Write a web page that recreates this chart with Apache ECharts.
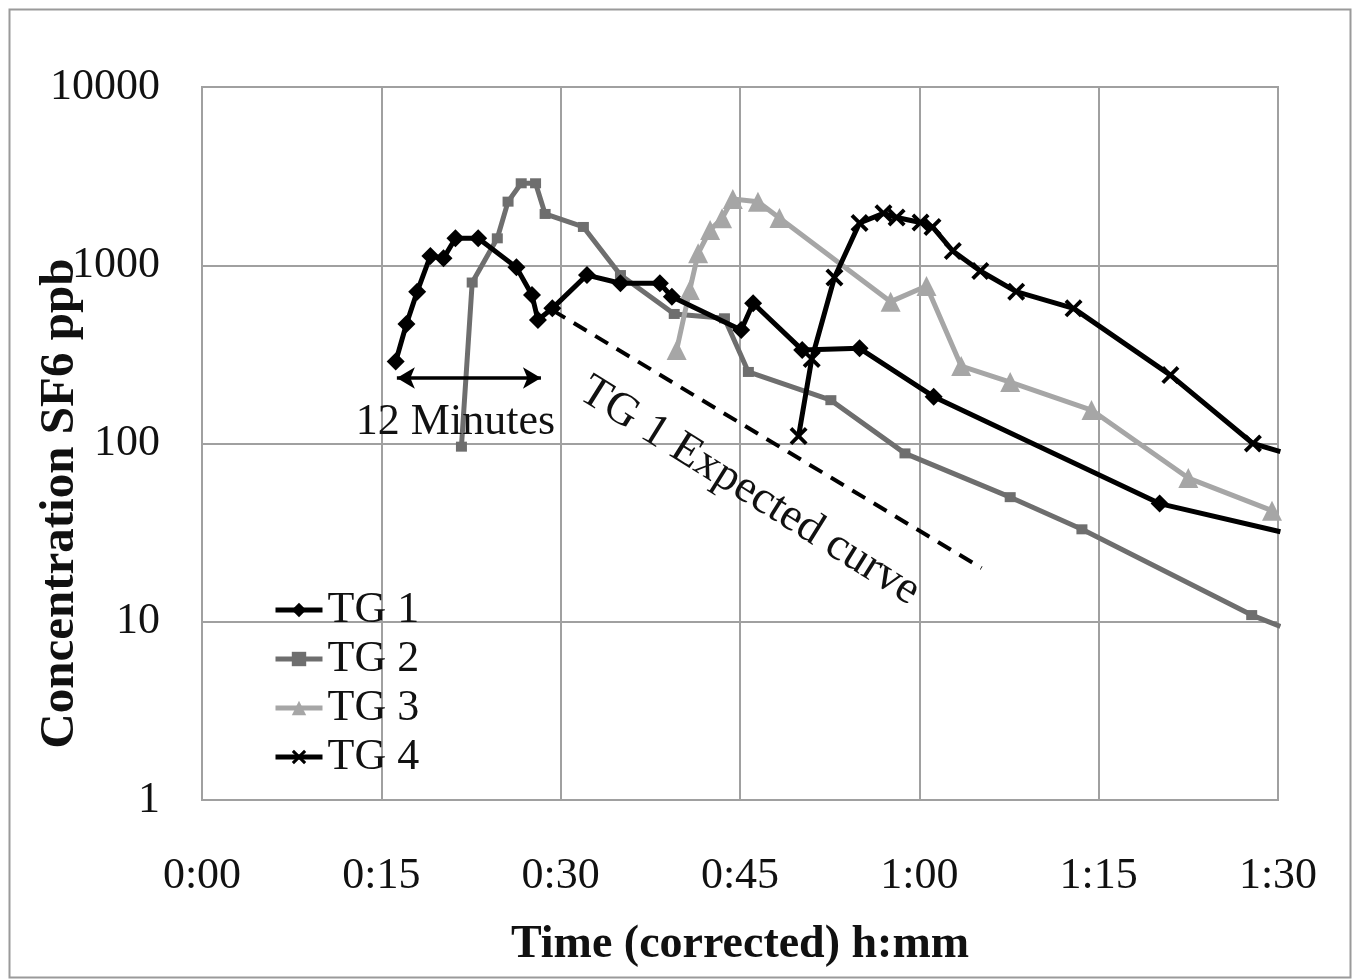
<!DOCTYPE html>
<html><head><meta charset="utf-8">
<script src="https://cdn.jsdelivr.net/npm/echarts@6/dist/echarts.min.js"></script>
<style>html,body{margin:0;padding:0;background:#fff}#c{width:1355px;height:979px}</style>
</head><body><div id="c"></div>
<script>
// time in minutes, concentration in ppb
const tg1Time = [16.2,17.1,18.0,19.1,20.2,21.2,23.1,26.3,27.6,28.1,29.3,32.2,35.0,38.3,39.3,45.1,46.1,50.2,55.0,61.2,80.1,90.2];
const tg1Conc = [288,468,711,1127,1094,1416,1416,973,681,493,573,881,792,792,666,433,612,335,342,183,46,32];
const tg2Time = [21.7,22.6,24.7,25.6,26.7,27.9,28.7,31.9,35.0,39.5,43.7,45.7,52.6,58.8,67.6,73.6,87.8,90.2];
const tg2Conc = [96,800,1416,2274,2883,2883,1940,1640,881,533,504,252,175,88,50,33,10.9,9.4];
const tg3Time = [39.7,40.8,41.5,42.5,43.5,44.4,46.5,48.3,57.6,60.6,63.5,67.6,74.4,82.5,89.5];
const tg3Conc = [335,727,1167,1577,1834,2353,2274,1841,625,765,272,221,154,64,42];
const tg4Time = [49.9,51.0,52.9,55.0,57.0,58.1,60.1,61.1,62.8,65.1,68.1,72.9,81.0,87.9,90.2];
const tg4Conc = [110,298,854,1726,1956,1853,1738,1640,1202,928,711,573,242,100,90];
const expectedTime = [29.3,65.2];
const expectedConc = [560,20];
const arrowTime = [16.3,28.35];
const arrowConc = [233,233];
const seriesNames = ['TG 1','TG 2','TG 3','TG 4'];

function pairs(t,v){return t.map((x,i)=>[x,v[i]]);}
function fmt(v){const h=Math.floor(v/60), m=Math.round(v%60);return h+':'+String(m).padStart(2,'0');}

const serif = 'Liberation Serif';
const chart = echarts.init(document.getElementById('c'));
const xPath = 'path://M1.5,0L5,3.5L8.5,0L10,1.5L6.5,5L10,8.5L8.5,10L5,6.5L1.5,10L0,8.5L3.5,5L0,1.5Z';
const gridLeft = 202;

chart.setOption({
  animation:false,
  backgroundColor:'#fff',
  grid:{left:gridLeft,top:87,right:77,bottom:179,show:true,borderColor:'#a0a0a0',borderWidth:2,
        containLabel:false,outerBoundsMode:'none'},
  xAxis:{type:'value',min:0,max:90,interval:15,
    axisLine:{show:true,lineStyle:{color:'#a0a0a0',width:2}},axisTick:{show:false},
    splitLine:{show:true,lineStyle:{color:'#a0a0a0',width:2}},
    axisLabel:{formatter:fmt,fontFamily:serif,fontSize:44,color:'#111',margin:54},
    name:'Time (corrected) h:mm',nameLocation:'middle',nameGap:122,
    nameTextStyle:{fontFamily:serif,fontWeight:'bold',fontSize:46,color:'#111'}},
  yAxis:{type:'log',logBase:10,min:1,max:10000,
    axisLine:{show:true,lineStyle:{color:'#a0a0a0',width:2}},axisTick:{show:false},
    splitLine:{show:true,lineStyle:{color:'#a0a0a0',width:2}},
    axisLabel:{formatter:v=>String(Math.round(v)),fontFamily:serif,fontSize:44,color:'#111',margin:42}},
  legend:{orient:'vertical',left:268,top:583,itemGap:5,itemWidth:47,itemHeight:18,
    data:seriesNames,textStyle:{fontFamily:serif,fontSize:44,color:'#111'},
    lineStyle:{width:5},
    backgroundColor:'transparent'},
  series:[
    {name:'TG 1',type:'line',data:pairs(tg1Time,tg1Conc),symbol:'diamond',symbolSize:18,
     lineStyle:{color:'#000',width:5},itemStyle:{color:'#000'},z:5},
    {name:'TG 2',type:'line',data:pairs(tg2Time,tg2Conc),symbol:'rect',symbolSize:[11,10],
     lineStyle:{color:'#6e6e6e',width:5},itemStyle:{color:'#6e6e6e'},z:3},
    {name:'TG 3',type:'line',data:pairs(tg3Time,tg3Conc),symbol:'triangle',symbolSize:20,
     lineStyle:{color:'#a6a6a6',width:5},itemStyle:{color:'#a6a6a6'},z:4},
    {name:'TG 4',type:'line',data:pairs(tg4Time,tg4Conc),symbol:xPath,symbolSize:18,
     lineStyle:{color:'#000',width:5},itemStyle:{color:'#000'},z:6},
    {name:'expected',type:'line',data:pairs(expectedTime,expectedConc),symbol:'none',
     lineStyle:{color:'#000',width:4,type:[15,10]},z:2},
    {name:'arrow',type:'line',data:pairs(arrowTime,arrowConc),showSymbol:false,
     lineStyle:{color:'#000',width:0,opacity:0},z:2,
     markLine:{silent:true,symbol:['arrow','arrow'],symbolSize:[16,18],
       lineStyle:{color:'#000',width:3.5,type:'solid'},label:{show:false},
       data:[[{coord:[arrowTime[0],arrowConc[0]]},{coord:[arrowTime[1],arrowConc[1]]}]]}}
  ]
});

const p1 = chart.convertToPixel({gridIndex:0},[21.2,132]);
const p2 = chart.convertToPixel({gridIndex:0},[45.8,54]);
const pt = chart.convertToPixel({gridIndex:0},[0,46]);
chart.setOption({graphic:[
  {type:'rect',left:7,top:7,shape:{width:1341,height:968},style:{fill:'none',stroke:'#9a9a9a',lineWidth:2},z:-1,silent:true},
  {type:'text',x:gridLeft-142,y:pt[1],rotation:Math.PI/2,style:{text:'Concentration SF6 ppb',font:'bold 49px "Liberation Serif"',fill:'#111',align:'center',verticalAlign:'middle'},z:10},
  {type:'text',x:p1[0],y:p1[1],style:{text:'12 Minutes',font:'44px "Liberation Serif"',fill:'#111',align:'center',verticalAlign:'middle'},z:10},
  {type:'text',x:p2[0],y:p2[1],rotation:-32*Math.PI/180,style:{text:'TG 1 Expected curve',font:'46px "Liberation Serif"',fill:'#111',align:'center',verticalAlign:'middle'},z:10}
]});
</script></body></html>
